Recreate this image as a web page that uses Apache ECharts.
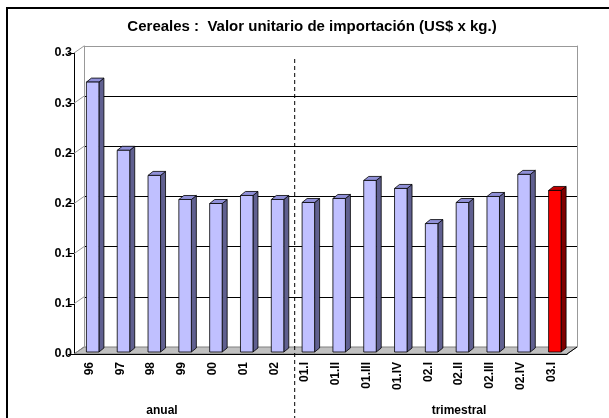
<!DOCTYPE html>
<html>
<head>
<meta charset="utf-8">
<script src="https://cdn.jsdelivr.net/npm/echarts@6/dist/echarts.min.js"></script>
<style>
  html, body { margin: 0; padding: 0; background: #fff; }
  #main { width: 609px; height: 418px; }
</style>
</head>
<body>
<div id="main"></div>
<script>
// datos
const categories = ['96', '97', '98', '99', '00', '01', '02',
  '01.I', '01.II', '01.III', '01.IV', '02.I', '02.II', '02.III', '02.IV', '03.I'];
const values = [0.271, 0.203, 0.178, 0.154, 0.150, 0.158, 0.154,
  0.151, 0.155, 0.173, 0.165, 0.130, 0.151, 0.157, 0.179, 0.163];
const yTickValues = [0, 0.05, 0.1, 0.15, 0.2, 0.25, 0.3];
const yTickLabels = ['0.0', '0.1', '0.1', '0.2', '0.2', '0.3', '0.3'];
const groupLabels = ['anual', 'trimestral'];
const annualCount = 7;

const FONT = '"Liberation Sans", Arial, sans-serif';
const front = { left: 74, right: 42, top: 53, bottom: 64 };
const DX = 10, DY = 7;   // profundidad 3D

const option = {
  animation: false,
  backgroundColor: '#fff',
  grid: [
    { left: front.left, right: front.right, top: front.top, bottom: front.bottom },
    { left: front.left + DX, right: front.right - DX, top: front.top - DY, bottom: front.bottom + DY }
  ],
  xAxis: [
    {
      type: 'category',
      gridIndex: 0,
      data: categories,
      axisLine: { lineStyle: { color: '#000', width: 1 } },
      axisTick: { length: 5, lineStyle: { color: '#000' } },
      axisLabel: {
        rotate: 90, margin: 8, color: '#000',
        fontFamily: FONT, fontWeight: 'bold', fontSize: 12
      },
      z: 3
    },
    { type: 'value', gridIndex: 1, show: false, min: 0, max: 1 }
  ],
  yAxis: [
    {
      type: 'value', gridIndex: 0,
      min: 0, max: 0.3, interval: 0.05,
      axisLine: { show: true, lineStyle: { color: '#000' } },
      axisTick: { show: true, length: 6, lineStyle: { color: '#000' } },
      axisLabel: {
        margin: 2, color: '#000', fontFamily: FONT, fontWeight: 'bold', fontSize: 12.5,
        formatter: (v) => yTickLabels[yTickValues.findIndex(t => Math.abs(t - v) < 1e-9)]
      },
      splitLine: { show: false }
    },
    {
      type: 'value', gridIndex: 1,
      min: 0, max: 0.3, interval: 0.05,
      axisLine: { show: true, lineStyle: { color: '#999' } },
      axisTick: { show: false },
      axisLabel: { show: false },
      splitLine: {
        show: true,
        lineStyle: { color: ['#999', '#000', '#000', '#000', '#000', '#000', '#999'], width: 1 }
      }
    },
    {
      type: 'value', gridIndex: 1, position: 'right',
      min: 0, max: 0.3, interval: 0.05,
      axisLine: { show: true, lineStyle: { color: '#999' } },
      axisTick: { show: false },
      axisLabel: { show: false },
      splitLine: { show: false }
    }
  ],
  series: [
    {
      type: 'custom',
      xAxisIndex: 0,
      yAxisIndex: 0,
      z: 5,
      data: values.map((v, i) => [i, v]),
      renderItem: (params, api) => {
        const top = api.coord([api.value(0), api.value(1)]);
        const base = api.coord([api.value(0), 0]);
        const last = params.dataIndex === categories.length - 1;
        const cFront = last ? '#ff0000' : '#c0c0ff';
        const cSide = last ? '#800000' : '#606090';
        const cTop = last ? '#c00000' : '#9090d8';
        const w = 12.5, dx = 5, dy = 4;
        const x0 = top[0] - 3, x1 = x0 + w;
        const y0 = top[1], y1 = base[1] - 2;
        const stroke = { stroke: '#000', lineWidth: 0.8 };
        return {
          type: 'group',
          children: [
            { type: 'polygon', shape: { points: [[x1, y0], [x1 + dx, y0 - dy], [x1 + dx, y1 - dy], [x1, y1]] },
              style: Object.assign({ fill: cSide }, stroke) },
            { type: 'polygon', shape: { points: [[x0, y0], [x0 + dx, y0 - dy], [x1 + dx, y0 - dy], [x1, y0]] },
              style: Object.assign({ fill: cTop }, stroke) },
            { type: 'rect', shape: { x: x0, y: y0, width: w, height: y1 - y0 },
              style: Object.assign({ fill: cFront }, stroke) }
          ]
        };
      }
    }
  ]
};

const chart = echarts.init(document.getElementById('main'));
chart.setOption(option);

// elementos de decoracion: piso, paredes, separador, titulos
const xc0 = chart.convertToPixel({ xAxisIndex: 0 }, 0);
const xc1 = chart.convertToPixel({ xAxisIndex: 0 }, 1);
const band = xc1 - xc0;
const yBase = chart.convertToPixel({ yAxisIndex: 0 }, 0);
const xLeft = xc0 - band / 2;
const xRight = chart.convertToPixel({ xAxisIndex: 0 }, categories.length - 1) + band / 2;
const xSep = chart.convertToPixel({ xAxisIndex: 0 }, annualCount - 1) + band / 2 + DX / 2;

const graphics = [
  { type: 'rect', z: 0, shape: { x: 7, y: 8, width: 800, height: 600 },
    style: { fill: 'none', stroke: '#000', lineWidth: 2 } },
  { type: 'polygon', z: 0,
    shape: { points: [[xLeft, yBase], [xRight, yBase], [xRight + DX, yBase - DY], [xLeft + DX, yBase - DY]] },
    style: { fill: '#c0c0c0', stroke: '#808080', lineWidth: 1 } },
  { type: 'text', z: 10, x: 312, y: 27,
    style: { text: 'Cereales :  Valor unitario de importación (US$ x kg.)', font: 'bold 15px ' + FONT,
      fill: '#000', align: 'center', verticalAlign: 'middle' } },
  { type: 'line', z: 10, shape: { x1: xSep, y1: 59, x2: xSep, y2: 418 },
    style: { stroke: '#000', lineWidth: 1, lineDash: [4, 3] } },
  { type: 'text', z: 10, x: 162, y: 411,
    style: { text: groupLabels[0], font: 'bold 12px ' + FONT, fill: '#000', align: 'center', verticalAlign: 'middle' } },
  { type: 'text', z: 10, x: 459, y: 411,
    style: { text: groupLabels[1], font: 'bold 12px ' + FONT, fill: '#000', align: 'center', verticalAlign: 'middle' } }
];
// lineas de la pared izquierda
yTickValues.forEach((t) => {
  const y = chart.convertToPixel({ yAxisIndex: 0 }, t);
  graphics.push({ type: 'line', z: 1, shape: { x1: xLeft, y1: y, x2: xLeft + DX, y2: y - DY },
    style: { stroke: t === 0 ? '#808080' : '#999', lineWidth: 1 } });
});
// borde derecho del piso
graphics.push({ type: 'line', z: 1, shape: { x1: xRight, y1: yBase, x2: xRight + DX, y2: yBase - DY },
  style: { stroke: '#000', lineWidth: 1 } });

chart.setOption({ graphic: graphics });
</script>
</body>
</html>
